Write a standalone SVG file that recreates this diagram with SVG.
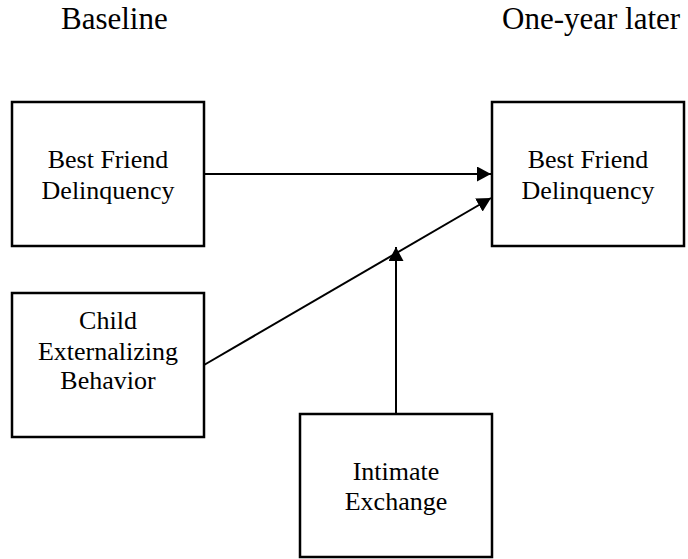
<svg xmlns="http://www.w3.org/2000/svg" width="688" height="559" viewBox="0 0 688 559">
<style>
.box{fill:#fff;stroke:#000;stroke-width:2.5}
.t{font-family:"Liberation Serif","Times New Roman",serif;font-size:26px;fill:#000;text-anchor:middle}
.title{font-family:"Liberation Serif","Times New Roman",serif;font-size:31px;fill:#000}
.c{stroke:#000;stroke-width:2;fill:none;marker-end:url(#ah)}
</style>
<defs>
<marker id="ah" markerUnits="userSpaceOnUse" markerWidth="15" markerHeight="15" refX="14" refY="7.5" orient="auto">
<path d="M0,0 L14,7.5 L0,15 z" fill="#000"/>
</marker>
</defs>
<text class="title" x="61" y="29">Baseline</text>
<text class="title" x="502" y="29">One-year later</text>
<g id="connectors">
<line class="c" x1="204" y1="174" x2="491" y2="174"/>
<line class="c" x1="204" y1="365" x2="491" y2="198"/>
<line class="c" x1="396" y1="414" x2="396" y2="247"/>
</g>
<g id="bf1">
<rect class="box" x="12" y="102" width="192" height="144"/>
<text class="t" x="108" y="168">Best Friend</text>
<text class="t" x="108" y="199">Delinquency</text>
</g>
<g id="bf2">
<rect class="box" x="492" y="102" width="192" height="144"/>
<text class="t" x="588" y="168">Best Friend</text>
<text class="t" x="588" y="199">Delinquency</text>
</g>
<g id="child">
<rect class="box" x="12" y="293" width="192" height="144"/>
<text class="t" x="108" y="329">Child</text>
<text class="t" x="108" y="360">Externalizing</text>
<text class="t" x="108" y="389">Behavior</text>
</g>
<g id="intimate">
<rect class="box" x="300" y="414" width="192" height="143"/>
<text class="t" x="396" y="480">Intimate</text>
<text class="t" x="396" y="510">Exchange</text>
</g>
</svg>
